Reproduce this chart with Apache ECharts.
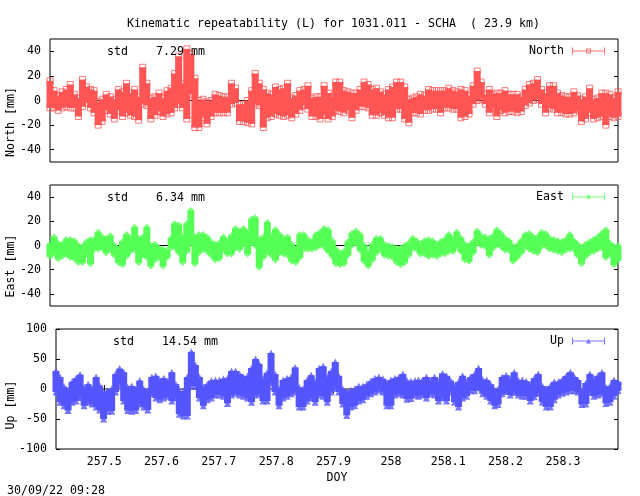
<!DOCTYPE html>
<html>
<head>
<meta charset="utf-8">
<style>
  html, body { margin: 0; padding: 0; background: #fff; }
  #chart { width: 640px; height: 496px; }
</style>
<script src="https://cdn.jsdelivr.net/npm/echarts@6/dist/echarts.min.js"></script>
</head>
<body>
<div id="chart"></div>
<script>
// values, one column about every 4 px
const doy = [
  257.416,257.423,257.430,257.437,257.444,257.451,257.458,257.465,257.472,257.479,
  257.486,257.492,257.499,257.506,257.513,257.520,257.527,257.534,257.541,257.548,
  257.555,257.562,257.569,257.576,257.583,257.590,257.597,257.604,257.611,257.618,
  257.625,257.631,257.638,257.645,257.652,257.659,257.666,257.673,257.680,257.687,
  257.694,257.701,257.708,257.715,257.722,257.729,257.736,257.743,257.750,257.757,
  257.764,257.770,257.777,257.784,257.791,257.798,257.805,257.812,257.819,257.826,
  257.833,257.840,257.847,257.854,257.861,257.868,257.875,257.882,257.889,257.896,
  257.903,257.909,257.916,257.923,257.930,257.937,257.944,257.951,257.958,257.965,
  257.972,257.979,257.986,257.993,258.000,258.007,258.014,258.021,258.028,258.035,
  258.042,258.048,258.055,258.062,258.069,258.076,258.083,258.090,258.097,258.104,
  258.111,258.118,258.125,258.132,258.139,258.146,258.153,258.160,258.167,258.174,
  258.181,258.187,258.194,258.201,258.208,258.215,258.222,258.229,258.236,258.243,
  258.250,258.257,258.264,258.271,258.278,258.285,258.292,258.299,258.306,258.313,
  258.320,258.326,258.333,258.340,258.347,258.354,258.361,258.368,258.375,258.382,
  258.389,258.396
];

const northHigh = [
  16,8,4,7,9,13,5,2,17,11, 9,8,-1,1,5,3,1,9,7,14,
  6,9,3,27,14,2,3,6,2,8, 10,22,36,14,42,38,18,0,1,-1,
  0,5,4,3,3,14,10,-3,-3,0, 8,22,14,9,6,5,11,9,10,14,
  2,4,8,9,12,2,3,3,12,6, 3,15,15,8,7,6,6,9,15,13,
  9,10,7,5,9,11,15,15,11,1, 2,3,5,4,9,8,8,8,8,10,
  8,7,9,8,4,12,24,15,5,9, 5,6,6,8,5,5,5,3,9,13,
  14,17,9,6,12,12,6,4,3,3, 7,4,1,3,10,1,2,6,6,5,
  2,7
];
const northLow = [
  -6,-6,-8,-6,-5,-6,-6,-13,-5,-2, -6,-10,-20,-17,-8,-11,-15,-8,-13,-10,
  -12,-13,-16,-3,-4,-15,-12,-9,-13,-11, -10,-6,-3,-6,-15,5,-22,-22,-14,-19,
  -13,-10,-10,-10,-10,-3,-2,-17,-17,-18, -19,-3,-4,-22,-14,-13,-11,-12,-13,-12,
  -14,-11,-8,-4,-7,-13,-13,-15,-12,-15, -13,-8,-9,-10,-8,-14,-8,-5,-5,-6,
  -12,-12,-10,-12,-14,-14,-7,-7,-15,-18, -10,-10,-11,-8,-8,-7,-7,-10,-6,-6,
  -7,-7,-14,-13,-11,-3,0,1,-3,-10, -6,-13,-8,-10,-9,-9,-10,-9,-4,-2,
  0,1,-3,-10,-6,-7,-10,-10,-11,-11, -10,-8,-17,-15,-10,-15,-14,-13,-20,-13,
  -14,-13
];

const eastHigh = [
  1,7,2,1,5,5,4,0,-1,3, 5,5,11,7,6,8,0,-3,3,9,
  6,15,6,7,15,0,1,-2,-3,-4, 6,18,17,7,18,29,7,9,9,7,
  3,1,2,7,3,8,14,12,14,11, 22,23,5,7,19,8,13,9,6,7,
  1,-3,9,9,5,3,9,11,14,13, 4,-3,-6,-5,3,10,12,9,0,-6,
  1,6,6,1,0,-1,-2,-2,0,2, 6,4,1,4,5,4,1,3,5,9,
  5,11,6,1,0,3,12,8,7,6, 8,13,10,6,4,-1,0,4,9,10,
  7,7,11,10,6,5,4,3,5,9, 4,1,-2,1,3,5,7,10,13,2,
  -1,0
];
const eastLow = [
  -9,-6,-11,-9,-7,-10,-11,-14,-14,-7, -15,-3,-3,-2,-6,-3,-8,-14,-16,-9,
  -5,-3,-14,-8,-10,-17,-12,-10,-17,-10, -2,-1,-6,-14,-5,2,-15,-6,-3,-5,
  -8,-12,-11,-4,-7,-7,-2,-3,1,-7, 2,0,-18,-10,-5,-8,-12,-6,-7,-8,
  -13,-14,-10,-3,-3,-3,-2,0,-1,-5, -9,-15,-16,-15,-8,0,2,-4,-13,-17,
  -12,-6,-3,-8,-9,-10,-14,-16,-14,-8, -2,-3,-7,-7,-9,-8,-9,-7,-7,-5,
  -5,0,-5,-12,-13,-6,2,0,-1,-8, -2,1,-1,-4,-4,-13,-10,-6,-1,-3,
  -5,-6,-1,0,-3,-4,-5,-6,-4,-3, -3,-8,-15,-9,-6,-5,-3,-2,-10,-7,
  -16,-12
];

const upHigh = [
  30,20,4,-3,12,18,24,2,8,1, 20,6,-5,-3,0,25,34,28,3,5,
  0,14,0,-3,20,22,15,18,13,28, 8,-3,-4,20,62,40,20,3,8,14,
  15,15,17,18,30,30,25,20,22,35, 50,42,17,27,60,25,0,15,18,20,
  36,3,0,15,23,12,35,38,20,30, 45,22,0,-5,-2,0,5,5,8,13,
  18,20,17,10,15,18,20,25,14,13, 14,15,15,20,14,20,13,26,22,14,
  5,12,22,12,20,25,35,16,15,8, -2,0,20,23,17,28,15,15,13,8,
  18,25,5,0,5,12,12,16,22,28, 20,15,-3,10,25,17,22,28,3,5,
  15,12
];
const upLow = [
  -5,-22,-28,-36,-22,-20,-14,-28,-22,-25, -30,-35,-50,-37,-37,-5,8,-20,-36,-37,
  -36,-25,-30,-35,-8,-15,-18,-15,-12,-20, -15,-42,-45,-45,5,5,-15,-28,-18,-15,
  -10,-10,-12,-24,-10,-7,-10,-12,-15,-22, -10,-8,-20,-20,10,-5,-28,-15,-12,-8,
  -5,-30,-30,-20,-15,-22,-10,-12,-22,-5, 5,-5,-25,-44,-30,-28,-20,-18,-12,-8,
  -5,-2,-5,-28,-28,-10,-8,-10,-17,-16, -10,-12,-10,-15,-8,-10,-20,-15,-20,-5,
  -22,-30,-15,-12,-3,-3,2,-8,-12,-20, -28,-26,-8,-4,-10,-6,-10,-12,-12,-20,
  -13,-7,-22,-30,-30,-18,-10,-7,-5,-3, -3,-5,-26,-25,-6,-12,-10,-8,-24,-22,
  -12,-3
];

const xTicks = [257.5, 257.6, 257.7, 257.8, 257.9, 258, 258.1, 258.2, 258.3];
const smallTicks = [-40, -20, 0, 20, 40];
const upTicks = [-100, -50, 0, 50, 100];
const xMin = 257.416, xMax = 258.396;

const FONT = '"DejaVu Sans Mono", monospace';
const FONT_SIZE = 11.63;
const textStyle = { fontFamily: FONT, fontSize: FONT_SIZE, color: '#000' };

// error bar legend icons, drawn in a 33x7 box
const barPath = 'M0 0H1V7H0Z M32 0H33V7H32Z M0 3H33V4H0Z ';
const icons = {
  North: 'path://' + barPath + 'M14 1H19V6H14Z M15 2V5H18V2Z',
  East: 'path://' + barPath + 'M16.5 1L19 3.5L16.5 6L14 3.5Z',
  Up: 'path://' + barPath + 'M16.5 1L19 6H14Z'
};

const panels = [
  { name: 'North', color: '#ff5555', high: northHigh, low: northLow, yMin: -50, yMax: 50, ticks: smallTicks,
    symbol: 'rect', size: 6, grid: { left: 50, right: 22, top: 39, height: 123 }, legendTop: 43 },
  { name: 'East', color: '#55ff55', high: eastHigh, low: eastLow, yMin: -50, yMax: 50, ticks: smallTicks,
    symbol: 'diamond', size: 7, grid: { left: 50, right: 22, top: 185, height: 121 }, legendTop: 189 },
  { name: 'Up', color: '#5555ff', high: upHigh, low: upLow, yMin: -100, yMax: 100, ticks: upTicks,
    symbol: 'triangle', size: 7, grid: { left: 56, right: 22, top: 329, height: 120 }, legendTop: 333 }
];

const grid = [], xAxis = [], yAxis = [], series = [], legend = [];

panels.forEach((p, n) => {
  const showX = p.name === 'Up';
  grid.push(Object.assign({ show: true, borderColor: '#000', borderWidth: 1, backgroundColor: '#fff' }, p.grid));

  const xBase = {
    type: 'value', gridIndex: n, min: xMin, max: xMax,
    splitLine: { show: false }, axisLine: { show: false }
  };
  xAxis.push(Object.assign({}, xBase, {
    position: 'bottom',
    name: showX ? 'DOY' : '', nameLocation: 'middle', nameGap: 23, nameTextStyle: textStyle,
    axisTick: { show: showX, inside: true, length: 4, customValues: xTicks, lineStyle: { color: '#000' } },
    axisLabel: { show: showX, margin: 7, customValues: xTicks, formatter: v => String(v), ...textStyle }
  }));
  xAxis.push(Object.assign({}, xBase, {
    position: 'top',
    axisTick: { show: showX, inside: true, length: 4, customValues: xTicks, lineStyle: { color: '#000' } },
    axisLabel: { show: false }
  }));

  const yBase = {
    type: 'value', gridIndex: n, min: p.yMin, max: p.yMax,
    splitLine: { show: false }, axisLine: { show: false },
    axisTick: { show: true, inside: true, length: 4, customValues: p.ticks, lineStyle: { color: '#000' } }
  };
  yAxis.push(Object.assign({}, yBase, {
    position: 'left',
    axisLabel: { margin: 9, customValues: p.ticks, formatter: v => String(v), ...textStyle }
  }));
  yAxis.push(Object.assign({}, yBase, { position: 'right', axisLabel: { show: false } }));

  const xi = n * 2, yi = n * 2;

  // zero line, sits under the data
  series.push({
    type: 'line', xAxisIndex: xi, yAxisIndex: yi, z: 1, silent: true, symbol: 'none',
    data: [[xMin, 0], [xMax, 0]], lineStyle: { color: '#000', width: 1 }
  });
  // solid body of the overlapping error bars, wider than the column step so it closes up
  series.push({
    type: 'custom', xAxisIndex: xi, yAxisIndex: yi, z: 2, silent: true, clip: false,
    data: doy.map((d, i) => [d, p.low[i], p.high[i]]),
    encode: { x: 0, y: [1, 2] },
    renderItem: (params, api) => {
      const a = api.coord([api.value(0), api.value(1)]);
      const b = api.coord([api.value(0), api.value(2)]);
      return {
        type: 'rect',
        shape: { x: a[0] - 3.5, y: b[1], width: 7, height: a[1] - b[1] },
        style: { fill: p.color }
      };
    }
  });
  // point markers along both edges
  const filled = p.symbol !== 'rect';
  series.push({
    type: 'scatter', name: p.name, xAxisIndex: xi, yAxisIndex: yi, z: 3, silent: true, clip: false,
    symbol: p.symbol, symbolSize: p.size,
    itemStyle: filled ? { color: p.color } : { color: 'transparent', borderColor: p.color, borderWidth: 1 },
    data: doy.map((d, i) => [d, p.high[i]]).concat(doy.map((d, i) => [d, p.low[i]]))
  });

  legend.push({
    data: [{ name: p.name, icon: icons[p.name] }],
    right: 35, top: p.legendTop + 2, padding: 0, align: 'right', orient: 'vertical',
    itemWidth: 33, itemHeight: 7, selectedMode: false,
    itemStyle: { color: p.color, borderWidth: 0 },
    textStyle: { ...textStyle, padding: [0, 3, 0, 0] }
  });
});

const label = (text, x, y, extra) => ({
  type: 'text', x, y, z: 10,
  style: Object.assign({ text, font: FONT_SIZE + 'px ' + FONT, fill: '#000', textVerticalAlign: 'middle' }, extra)
});
const yLabel = (text, y) => Object.assign(label(text, 11, y, { textAlign: 'center' }), { rotation: Math.PI / 2 });

const chart = echarts.init(document.getElementById('chart'));
chart.setOption({
  animation: false,
  backgroundColor: '#fff',
  title: {
    text: 'Kinematic repeatability (L) for 1031.011 - SCHA  ( 23.9 km)',
    left: 127, top: 18, padding: 0,
    textStyle: { ...textStyle, fontWeight: 'normal' }
  },
  legend, grid, xAxis, yAxis, series,
  graphic: [
    label('std    7.29 mm', 107, 52),
    label('std    6.34 mm', 107, 198),
    label('std    14.54 mm', 113, 342),
    yLabel('North [mm]', 122),
    yLabel('East [mm]', 266),
    yLabel('Up [mm]', 405),
    label('30/09/22 09:28', 7, 491)
  ]
});
</script>
</body>
</html>
